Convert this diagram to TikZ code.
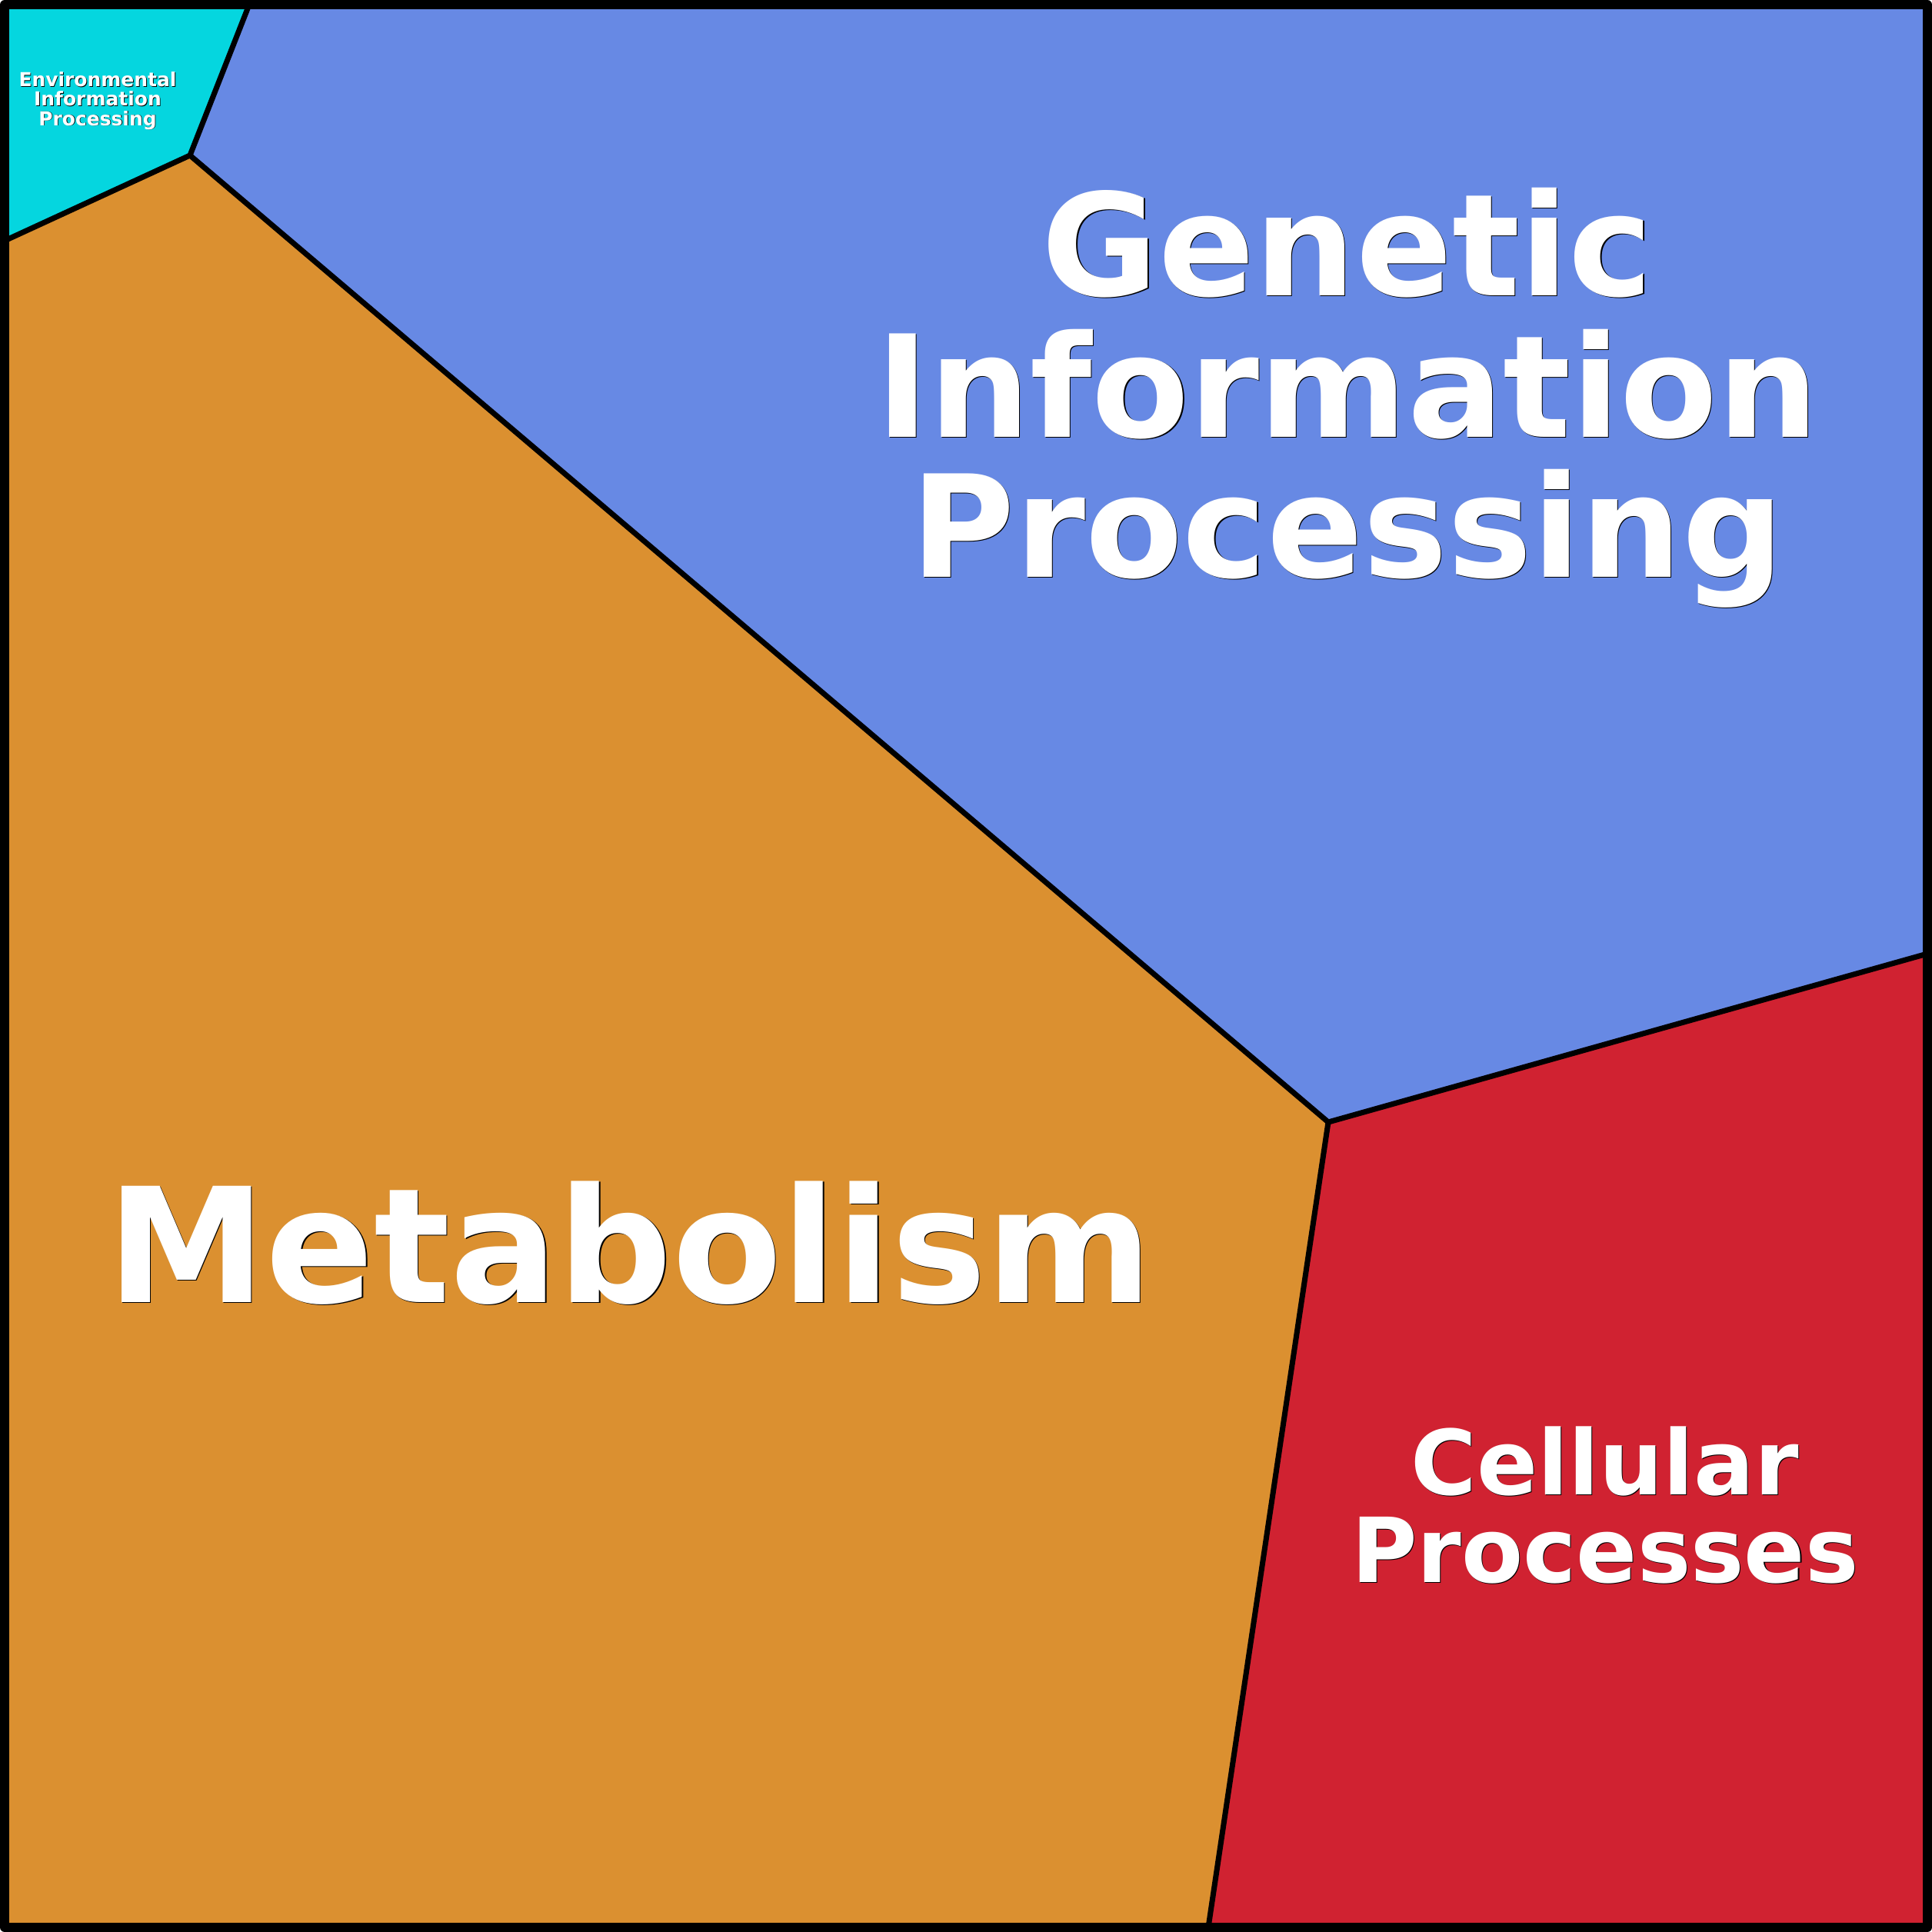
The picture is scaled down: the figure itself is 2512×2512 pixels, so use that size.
\documentclass[tikz,border=0pt]{standalone}
\usepackage{fontspec}
\newfontfamily\dvs{DejaVu Sans}
\usetikzlibrary{calc}
\definecolor{envc}{RGB}{5,214,223}
\definecolor{genc}{RGB}{103,137,228}
\definecolor{metc}{RGB}{219,144,48}
\definecolor{celc}{RGB}{208,34,49}
\tikzset{
  border/.style={line width=2pt,line join=round,black},
  frame/.style={line width=3.4pt,line join=round,black},
  txt/.style={anchor=base,inner sep=0pt,text=white},
  shd/.style={anchor=base,inner sep=0pt,text=black}
}
\newcommand\lbl[5]{%
  \node[shd,font={\dvs\bfseries\fontsize{#3}{#3}\selectfont}] (#1s) at (#2) [xshift=#5,yshift=-#5] {#4};
  \node[txt,font={\dvs\bfseries\fontsize{#3}{#3}\selectfont}] (#1) at (#2) {#4};}
\begin{document}
\begin{tikzpicture}[x=0.01cm,y=-0.01cm]
\useasboundingbox (0,0) rectangle (2512,2512);
\coordinate (TL) at (6,6);
\coordinate (TR) at (2506,6);
\coordinate (BR) at (2506,2506);
\coordinate (BL) at (6,2506);
\coordinate (A) at (324,6);
\coordinate (T) at (247,202);
\coordinate (L) at (6,313);
\coordinate (C) at (1727,1459);
\coordinate (R) at (2506,1240);
\coordinate (B) at (1571,2506);
\fill[envc] (TL) -- (A) -- (T) -- (L) -- cycle;
\fill[genc] (A) -- (TR) -- (R) -- (C) -- (T) -- cycle;
\fill[metc] (L) -- (T) -- (C) -- (B) -- (BL) -- cycle;
\fill[celc] (C) -- (R) -- (BR) -- (B) -- cycle;
\draw[border] (T) -- (A);
\draw[border] (T) -- (L);
\draw[border] (T) -- (C);
\draw[border] (C) -- (R);
\draw[border] (C) -- (B);
\draw[frame] (TL) rectangle (BR);
\lbl{g1}{1752,384}{52.5}{Genetic}{0.35pt}
\lbl{g2}{1752,568}{52.5}{Information}{0.35pt}
\lbl{g3}{1752,750}{52.5}{Processing}{0.35pt}
\lbl{m1}{819,1693}{59}{Metabolism}{0.4pt}
\lbl{c1}{2087,1943}{33.2}{Cellular}{0.3pt}
\lbl{c2}{2087,2057}{33.2}{Processes}{0.3pt}
\lbl{e1}{127,113}{7.1}{Environmental}{0.25pt}
\lbl{e2}{127,138}{7.1}{Information}{0.25pt}
\lbl{e3}{127,163}{7.1}{Processing}{0.25pt}
\end{tikzpicture}
\end{document}
